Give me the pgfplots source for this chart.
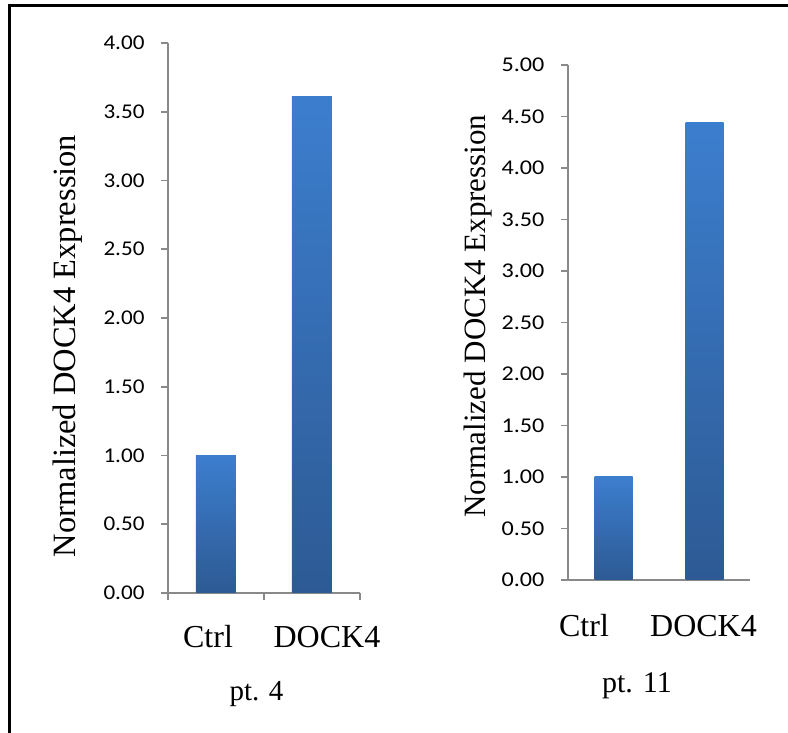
\documentclass[border=0pt]{standalone}
\usepackage{fontspec}
\setmainfont{Liberation Serif}
\newfontfamily\tickfontL[FakeStretch=1.1]{Carlito}
\newfontfamily\tickfontR[FakeStretch=1.15]{Carlito}
\usepackage{pgfplots}
\pgfplotsset{compat=1.18}

\definecolor{barTop}{RGB}{60,126,206}
\definecolor{barBot}{RGB}{45,90,148}
\definecolor{axisgray}{RGB}{137,137,137}

\pgfplotsset{
  dockbars/.style={
    scale only axis,
    clip=false,
    axis x line*=bottom,
    axis y line*=left,
    axis line style={axisgray, line width=1.6pt},
    xmin=0.5, xmax=2.5, ymin=0,
    ytick distance=0.5,
    tick align=outside,
    major tick length=7pt,
    every tick/.style={axisgray, line width=1.6pt},
    yticklabel style={xshift=-13pt, /pgf/number format/.cd, fixed, fixed zerofill, precision=2, assume math mode=true},
  },
  dockfill/.style={ybar, draw=none, top color=barTop, bottom color=barBot},
}

\begin{document}
\begin{tikzpicture}
\useasboundingbox (0,0) rectangle (788pt,733pt);
% frame
\draw[line width=3pt] (9pt,0) -- (9pt,727.5pt) -- (788pt,727.5pt);

% patient 4
\begin{axis}[dockbars,
  at={(168pt,140pt)}, anchor=south west,
  width=192pt, height=550pt,
  ymax=4,
  xtick={0.5,1.5,2.5}, xticklabels={,,},
  tick label style={font=\tickfontL\fontsize{21}{21}\selectfont},
]
% one plot per bar so each bar carries its own gradient
\addplot[dockfill, bar width=40pt] coordinates {(1,1.00)};
\addplot[dockfill, bar width=40pt] coordinates {(2,3.61)};
\node[anchor=base, yshift=-55pt, font=\fontsize{32}{32}\selectfont] at (axis cs:0.917,0) {Ctrl};
\node[anchor=base, yshift=-55pt, font=\fontsize{32}{32}\selectfont] at (axis cs:2.156,0) {DOCK4};
\end{axis}

% patient 11
\begin{axis}[dockbars,
  at={(568pt,153pt)}, anchor=south west,
  width=182pt, height=515pt,
  ymax=5,
  xtick=\empty,
  tick label style={font=\tickfontR\fontsize{21}{21}\selectfont},
]
\addplot[dockfill, bar width=38pt] coordinates {(1,1.00)};
\addplot[dockfill, bar width=38pt] coordinates {(2,4.44)};
\node[anchor=base, yshift=-57pt, font=\fontsize{32}{32}\selectfont] at (axis cs:0.676,0) {Ctrl};
\node[anchor=base, yshift=-57pt, font=\fontsize{32}{32}\selectfont] at (axis cs:1.989,0) {DOCK4};
\end{axis}

% axis titles and panel captions
\node[rotate=90, font=\fontsize{32.5}{32.5}\selectfont] at (68pt,387pt) {Normalized DOCK4 Expression};
\node[rotate=90, font=\fontsize{31}{31}\selectfont] at (478pt,417pt) {Normalized DOCK4 Expression};
\node[anchor=base, font=\fontsize{29}{29}\selectfont] at (256.5pt,32pt) {pt. 4};
\node[anchor=base, font=\fontsize{30}{30}\selectfont] at (637pt,40pt) {pt. 11};
\end{tikzpicture}
\end{document}
